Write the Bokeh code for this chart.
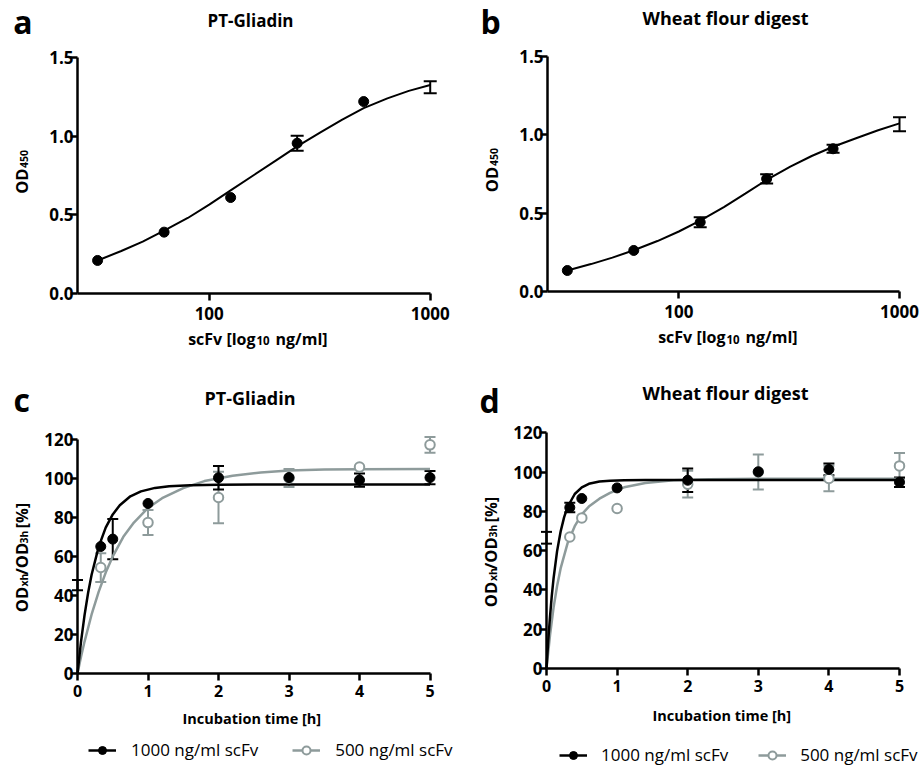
import math
from bokeh.plotting import figure
from bokeh.layouts import row, column
from bokeh.models import (Range1d, FixedTicker, PrintfTickFormatter, Label, Legend,
                          LegendItem, Whisker, TeeHead, ColumnDataSource, LinearAxis, LogAxis)
from bokeh.embed import file_html
from bokeh.resources import INLINE

# ---------------- data ----------------
conc = [31.25, 62.5, 125, 250, 500, 1000]
od_gliadin = [0.21, 0.39, 0.61, 0.955, 1.22, 1.311]
od_gliadin_err = [0, 0, 0, 0.048, 0, 0.038]
od_wheat = [0.134, 0.262, 0.442, 0.719, 0.911, 1.068]
od_wheat_err = [0, 0, 0.032, 0.03, 0.025, 0.045]

fit_conc = [31.25, 40, 50, 62.5, 80, 100, 125, 160, 200, 250, 320, 400, 500, 640, 800, 1000]
fit_gliadin = [0.21, 0.27, 0.33, 0.40, 0.48, 0.565, 0.655, 0.755, 0.845, 0.935, 1.025, 1.105,
               1.178, 1.24, 1.288, 1.325]
fit_wheat = [0.134, 0.175, 0.216, 0.263, 0.322, 0.383, 0.453, 0.539, 0.625, 0.712, 0.797, 0.865,
             0.924, 0.98, 1.029, 1.073]

conc_ticks = [100, 1000]
od_ticks = [0.0, 0.5, 1.0, 1.5]

time_1000 = [0, 0.33, 0.5, 1, 2, 3, 4, 5]
gli_1000 = [45.4, 65.2, 69.0, 87.3, 100.5, 100.6, 99.3, 100.6]
gli_1000_err = [2.6, 0, 10.3, 0, 6.0, 0, 3.4, 3.4]
time_500_gli = [0.33, 1, 2, 3, 4, 5]
gli_500 = [54.4, 77.5, 90.4, 100.4, 106.0, 117.4]
gli_500_err = [7.4, 6.4, 13.2, 4.6, 0, 4.0]

wheat_1000 = [66.6, 82.0, 86.6, 92.0, 95.9, 100.2, 101.4, 94.9]
wheat_1000_err = [3.0, 2.4, 0, 0, 6.0, 0, 3.0, 2.4]
time_500_wheat = [0.33, 0.5, 1, 2, 3, 4, 5]
wheat_500 = [67.0, 76.7, 81.5, 93.9, 100.1, 96.8, 103.2]
wheat_500_err = [0, 0, 0, 6.8, 8.9, 6.5, 6.6]

fit_t_gli_1000 = [0, 0.05, 0.1, 0.15, 0.2, 0.3, 0.4, 0.5, 0.6, 0.75, 0.9, 1.1, 1.3, 1.6, 2.0, 2.5, 3, 4, 5]
fit_gli_1000 = [0, 16.4, 30.0, 41.3, 50.7, 65.0, 74.9, 81.7, 86.4, 91.0, 93.5, 95.3, 96.2, 96.7,
                96.9, 97.0, 97.0, 97.0, 97.0]
fit_t_gli_500 = [0, 0.05, 0.1, 0.2, 0.3, 0.4, 0.5, 0.65, 0.8, 1.0, 1.2, 1.5, 1.8, 2.2, 2.6, 3.0, 3.5, 4, 5]
fit_gli_500 = [0, 8.6, 16.4, 30.3, 41.9, 51.8, 60.1, 70.2, 77.5, 85.0, 90.0, 95.2, 98.8, 101.5,
               103.2, 104.2, 104.7, 104.9, 105.0]
fit_t_wheat_1000 = [0, 0.025, 0.05, 0.075, 0.1, 0.15, 0.2, 0.25, 0.3, 0.4, 0.5, 0.6, 0.75, 0.9, 1.1, 1.4, 2.0, 5]
fit_wheat_1000 = [0, 14.4, 26.6, 37.1, 45.9, 59.8, 69.8, 77.1, 82.4, 88.9, 92.3, 94.1, 95.3, 95.7,
                  95.9, 96.0, 96.0, 96.0]
fit_t_wheat_500 = [0, 0.05, 0.1, 0.15, 0.2, 0.3, 0.4, 0.5, 0.6, 0.75, 0.9, 1.1, 1.4, 1.8, 2.3, 3.0, 5]
fit_wheat_500 = [0, 17, 31, 42, 51, 64, 72.5, 78.5, 82.5, 86.5, 89.5, 92.3, 94.5, 95.9, 96.4, 96.6, 96.7]

time_ticks = [0, 1, 2, 3, 4, 5]
pct_ticks = [0, 20, 40, 60, 80, 100, 120]

legend_labels = ["1000 ng/ml scFv", "500 ng/ml scFv"]

# ---------------- styling / layout ----------------
FONT = "Open Sans"
BLACK = "#000000"
GRAY = "#8e9b9b"

# page-pixel geometry of each plot's axes (origin pixel and pixels per unit / decade)
GEOM = {
    "a": dict(fl=77, fb=293, xs=221.0, ys=236 / 1.5, x0=1.404, log=True),
    "b": dict(fl=547, fb=291, xs=220.7, ys=235 / 1.5, x0=1.405, log=True),
    "c": dict(fl=77, fb=673, xs=70.5, ys=1.9475, x0=0.0, log=False),
    "d": dict(fl=546, fb=668, xs=70.6, ys=1.963, x0=0.0, log=False),
}
# canvas rectangle of each figure on the page (x0, y0, x1, y1)
CANVAS = {
    "a": (0, 0, 470, 362),
    "b": (470, 0, 920, 362),
    "c": (0, 362, 470, 770),
    "d": (470, 362, 920, 770),
}


def px2x(g, px):
    v = g["x0"] + (px - g["fl"]) / g["xs"]
    return 10 ** v if g["log"] else v


def py2y(g, py):
    return (g["fb"] - py) / g["ys"]


def add_text(p, g, px, py, text, size, bold=True, align="left", angle=0.0):
    # (px, py) is the wanted baseline point on the page; bokeh draws the
    # "alphabetic" baseline a little lower, so compensate along the text's down axis
    k = 0.34 if size > 24 else 0.41
    if angle:
        px -= k * size
    else:
        py -= k * size
    p.add_layout(Label(x=px2x(g, px), y=py2y(g, py), text=text, text_font=FONT,
                       text_font_size=f"{size}px",
                       text_font_style="bold" if bold else "normal",
                       text_align=align, text_baseline="alphabetic",
                       angle=angle, text_color="black"))


def style_axis(ax, size, standoff):
    ax.axis_line_color = "black"
    ax.axis_line_width = 2.5
    ax.major_tick_line_color = "black"
    ax.major_tick_line_width = 2.5
    ax.major_tick_out = 7
    ax.major_tick_in = 0
    ax.minor_tick_line_color = None
    ax.major_label_text_font = FONT
    ax.major_label_text_font_style = "bold"
    ax.major_label_text_color = "black"
    ax.major_label_text_font_size = f"{size}px"
    ax.major_label_standoff = standoff


def base_fig(key):
    g = GEOM[key]
    cx0, cy0, cx1, cy1 = CANVAS[key]
    p = figure(width=cx1 - cx0, height=cy1 - cy0,
               x_range=Range1d(px2x(g, cx0), px2x(g, cx1)),
               y_range=Range1d(py2y(g, cy1), py2y(g, cy0)),
               x_axis_type="log" if g["log"] else "linear",
               x_axis_location=None, y_axis_location=None, title=None,
               output_backend="svg", toolbar_location=None, min_border=0)
    p.outline_line_color = None
    p.grid.visible = False
    p.background_fill_color = "white"
    p.border_fill_color = "white"
    return p


def add_err(p, xs, ys, errs, color, cap, lw):
    keep = [i for i, e in enumerate(errs) if e > 0]
    src = ColumnDataSource(dict(
        x=[xs[i] for i in keep],
        lower=[ys[i] - errs[i] for i in keep],
        upper=[ys[i] + errs[i] for i in keep]))
    w = Whisker(base="x", lower="lower", upper="upper", source=src, dimension="height",
                level="underlay", line_color=color, line_width=lw,
                upper_head=TeeHead(size=cap, line_color=color, line_width=lw),
                lower_head=TeeHead(size=cap, line_color=color, line_width=lw))
    p.add_layout(w)


def dose_panel(key, ys, errs, fit, letter, title, title_size, letter_xy, title_xy,
               ylab_x, od_start, sub_start, xlab_shift, xlab_base):
    g = GEOM[key]
    x_left = 10 ** g["x0"]
    p = base_fig(key)
    xa = LogAxis(fixed_location=0, ticker=FixedTicker(ticks=conc_ticks, minor_ticks=[]),
                 formatter=PrintfTickFormatter(format="%d"), bounds=(x_left, 1000))
    style_axis(xa, 17, 6)
    p.add_layout(xa, "below")
    ya = LinearAxis(fixed_location=x_left, ticker=FixedTicker(ticks=od_ticks, minor_ticks=[]),
                    formatter=PrintfTickFormatter(format="%.1f"), bounds=(0, 1.5))
    style_axis(ya, 17, -3)
    p.add_layout(ya, "left")

    p.line(fit_conc, fit, line_color=BLACK, line_width=2)
    add_err(p, conc, ys, errs, BLACK, 13, 2)
    p.scatter(conc[:-1], ys[:-1], size=10, fill_color=BLACK, line_color=BLACK)

    add_text(p, g, letter_xy[0], letter_xy[1], letter, 32)
    add_text(p, g, title_xy[0], title_xy[1], title, title_size, align="center")
    add_text(p, g, ylab_x, od_start, "OD", 16.5, angle=math.pi / 2)
    add_text(p, g, ylab_x, sub_start, "450", 10.5, angle=math.pi / 2)
    add_text(p, g, 255 + xlab_shift, xlab_base, "scFv [log", 16, align="right")
    add_text(p, g, 256 + xlab_shift, xlab_base, "10", 11.5)
    add_text(p, g, 275 + xlab_shift, xlab_base, "ng/ml]", 16)
    return p


def time_panel(key, t1000, v1000, e1000, t500, v500, e500,
               ft1000, f1000, ft500, f500, letter, title, letter_xy, title_xy, ylab_x, starts,
               xlab_xy, leg_loc, leg_font, leg_lw, leg_spacing, leg_standoff):
    g = GEOM[key]
    p = base_fig(key)
    xa = LinearAxis(fixed_location=0, ticker=FixedTicker(ticks=time_ticks, minor_ticks=[]),
                    formatter=PrintfTickFormatter(format="%d"), bounds=(0, 5))
    style_axis(xa, 16, 4)
    p.add_layout(xa, "below")
    ya = LinearAxis(fixed_location=0, ticker=FixedTicker(ticks=pct_ticks, minor_ticks=[]),
                    formatter=PrintfTickFormatter(format="%d"), bounds=(0, 120))
    style_axis(ya, 17, -3)
    p.add_layout(ya, "left")

    add_err(p, t500, v500, e500, GRAY, 11, 2)
    add_err(p, t1000, v1000, e1000, BLACK, 11, 2)
    l500 = p.line(ft500, f500, line_color=GRAY, line_width=2.5)
    l1000 = p.line(ft1000, f1000, line_color=BLACK, line_width=2.5)
    s500 = p.scatter(t500, v500, size=9.5, fill_color="white", line_color=GRAY, line_width=2)
    # the 0 h point sits on the axis: only its error bar is visible
    s1000 = p.scatter(t1000[1:], v1000[1:], size=10, fill_color=BLACK, line_color=BLACK)

    add_text(p, g, letter_xy[0], letter_xy[1], letter, 32)
    add_text(p, g, title_xy[0], title_xy[1], title, 18, align="center")
    pieces = [("OD", 16.5), ("xh", 10.5), ("/OD", 16.5), ("3h", 10.5), ("[%]", 16.5)]
    for (txt, sz), st in zip(pieces, starts):
        add_text(p, g, ylab_x, st, txt, sz, angle=math.pi / 2)
    add_text(p, g, xlab_xy[0], xlab_xy[1], "Incubation time [h]", 14.5, align="center")

    leg = Legend(items=[LegendItem(label=legend_labels[0], renderers=[l1000, s1000]),
                        LegendItem(label=legend_labels[1], renderers=[l500, s500])],
                 location=leg_loc, orientation="horizontal",
                 label_text_font=FONT, label_text_font_size=f"{leg_font}px",
                 label_text_color="black", glyph_width=28, glyph_height=20,
                 label_standoff=leg_standoff, label_width=leg_lw, spacing=leg_spacing,
                 padding=0, margin=0, border_line_color=None, background_fill_alpha=0)
    p.add_layout(leg)
    return p


# all free-text positions below are page pixels (baseline points), converted per panel
pa = dose_panel("a", od_gliadin, od_gliadin_err, fit_gliadin,
                "a", "PT-Gliadin", 17, (12.7, 31.7), (250, 27), 27.5, 193.3, 167.5, 0, 344.7)
pb = dose_panel("b", od_wheat, od_wheat_err, fit_wheat,
                "b", "Wheat flour digest", 18, (480, 31.7), (725, 25), 497.5, 191.7, 165.5, 470, 343.5)

pc = time_panel("c", time_1000, gli_1000, gli_1000_err, time_500_gli, gli_500, gli_500_err,
                fit_t_gli_1000, fit_gli_1000, fit_t_gli_500, fit_gli_500,
                "c", "PT-Gliadin", (13, 410), (249.5, 405), 28,
                [611.7, 586, 574.5, 543, 528], (251.3, 723.5), (88, 9), 17, 118, 34, 15)
pd = time_panel("d", time_1000, wheat_1000, wheat_1000_err, time_500_wheat, wheat_500, wheat_500_err,
                fit_t_wheat_1000, fit_wheat_1000, fit_t_wheat_500, fit_wheat_500,
                "d", "Wheat flour digest", (479, 410.5), (725, 400), 497,
                [606.7, 580.5, 569, 537, 522], (721.3, 720.7), (89, 4), 17, 118, 30, 14)

layout = row(column(pa, pc), column(pb, pd))
html = file_html(layout, INLINE, title="ELISA scFv")
open("out.html", "w").write(html)
